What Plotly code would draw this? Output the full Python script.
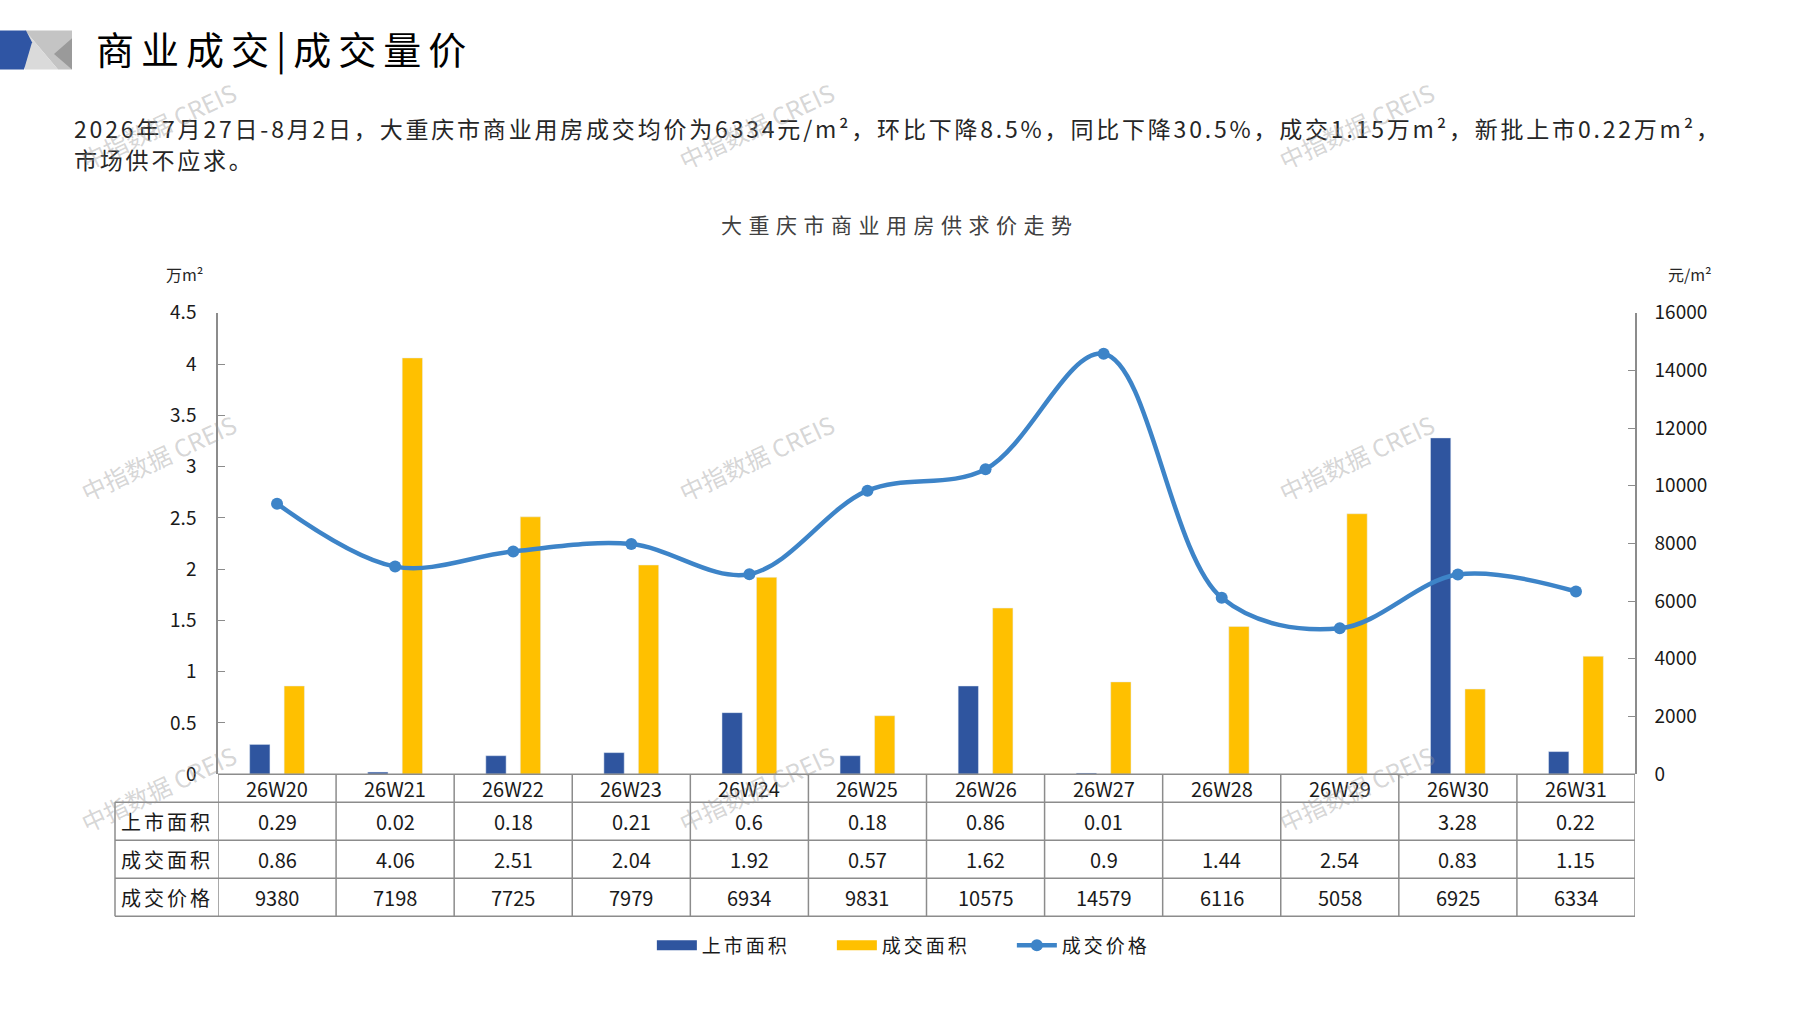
import plotly.graph_objects as go

# данные: недели, площадь новых поставок, площадь сделок, цена сделок
weeks = ["26W20", "26W21", "26W22", "26W23", "26W24", "26W25",
         "26W26", "26W27", "26W28", "26W29", "26W30", "26W31"]
supply_area = [0.29, 0.02, 0.18, 0.21, 0.6, 0.18, 0.86, 0.01, None, None, 3.28, 0.22]
deal_area = [0.86, 4.06, 2.51, 2.04, 1.92, 0.57, 1.62, 0.9, 1.44, 2.54, 0.83, 1.15]
deal_price = [9380, 7198, 7725, 7979, 6934, 9831, 10575, 14579, 6116, 5058, 6925, 6334]

row_names = ["上市面积", "成交面积", "成交价格"]
names = ["上市面积", "成交面积", "成交价格"]

W, H = 1797, 1010
FONT = "Noto Sans CJK SC"
BLUE = "#2F559F"
YELLOW = "#FFC000"
LINE = "#3D84C8"
GRID = "#8C8C8C"

# пиксельная разметка области графика и таблицы
PL, PR, PT, PB = 218, 1635, 306, 780
TL = 115
rows_y = [780, 809, 848, 887, 926]


def px(x):
    return x / W


def py(y):
    return 1 - y / H


def spaced(text, sp):
    return f'<span style="letter-spacing:{sp}px">{text}</span>'


def note(x, y, text, font, xref="paper", xanchor="center", **kw):
    return dict(x=x, y=y, xref=xref, yref="paper", text=text, showarrow=False,
                xanchor=xanchor, yanchor="middle", font=font, **kw)


fig = go.Figure()

fig.add_trace(go.Bar(x=weeks, y=supply_area, name=names[0], marker_color=BLUE,
                     width=0.172, offset=-0.232, yaxis="y", showlegend=False))
fig.add_trace(go.Bar(x=weeks, y=deal_area, name=names[1], marker_color=YELLOW,
                     width=0.172, offset=0.060, yaxis="y", showlegend=False))
# широкие образцы цвета для легенды (как в Excel)
fig.add_trace(go.Scatter(x=[None], y=[None], name=spaced(names[0], 3), mode="lines",
                         line=dict(color=BLUE, width=10)))
fig.add_trace(go.Scatter(x=[None], y=[None], name=spaced(names[1], 3), mode="lines",
                         line=dict(color=YELLOW, width=10)))
fig.add_trace(go.Scatter(x=weeks, y=deal_price, name=spaced(names[2], 3), yaxis="y2",
                         mode="lines+markers",
                         line=dict(color=LINE, width=4.5, shape="spline", smoothing=1.0),
                         marker=dict(size=12, color=LINE)))

shapes = []
annotations = []

# таблица под графиком
for k in range(13):
    shapes.append(dict(type="line", xref="x", yref="paper", x0=k - 0.5, x1=k - 0.5,
                       y0=py(rows_y[0]), y1=py(rows_y[-1]), line=dict(color=GRID, width=1.5)))
shapes.append(dict(type="line", xref="paper", yref="paper", x0=px(TL), x1=px(TL),
                   y0=py(rows_y[1]), y1=py(rows_y[-1]), line=dict(color=GRID, width=1.5)))
shapes.append(dict(type="line", xref="x", yref="paper", x0=-0.5, x1=11.5,
                   y0=py(rows_y[0]), y1=py(rows_y[0]), line=dict(color=GRID, width=1.5)))
for yy in rows_y[1:]:
    shapes.append(dict(type="line", xref="paper", yref="paper", x0=px(TL), x1=px(PR),
                       y0=py(yy), y1=py(yy), line=dict(color=GRID, width=1.5)))

cell_font = dict(family=FONT, size=20, color="#1a1a1a")
for w in weeks:
    annotations.append(note(w, py((rows_y[0] + rows_y[1]) / 2), w, cell_font, xref="x"))
table_rows = [supply_area, deal_area, deal_price]
for r, vals in enumerate(table_rows):
    yc = py((rows_y[r + 1] + rows_y[r + 2]) / 2)
    annotations.append(note(px((TL + PL) / 2), yc, spaced(row_names[r], 3), cell_font))
    for i, v in enumerate(vals):
        if v is None:
            continue
        annotations.append(note(weeks[i], yc, f"{v:g}", cell_font, xref="x"))

# заголовки и подписи
annotations.append(note(px(94), py(33), spaced("商业成交|成交量价", 7),
                        dict(family=FONT, size=38, color="#000000"), xanchor="left"))
sub1 = "2026年7月27日-8月2日，大重庆市商业用房成交均价为6334元/m²，环比下降8.5%，同比下降30.5%，成交1.15万m²，新批上市0.22万m²，"
sub2 = "市场供不应求。"
for txt, yy in [(sub1, 116), (sub2, 148)]:
    annotations.append(note(px(72), py(yy), spaced(txt, 2.8),
                            dict(family=FONT, size=23, color="#262626"), xanchor="left"))
annotations.append(note(px(900), py(215), spaced("大重庆市商业用房供求价走势", 6.5),
                        dict(family=FONT, size=21, color="#404040")))
annotations.append(note(px(184), py(266), "万m²",
                        dict(family=FONT, size=16, color="#262626")))
annotations.append(note(px(1690), py(266), "元/m²",
                        dict(family=FONT, size=16, color="#262626")))

# водяные знаки
for wx in [158, 756, 1356]:
    for wy in [114, 455, 795]:
        annotations.append(note(px(wx), py(wy), "中指数据 CREIS",
                                dict(family=FONT, size=24, color="rgba(150,150,150,0.4)"),
                                textangle=-25))


# значок в заголовке
def path(pts):
    return "M " + " L ".join(f"{px(a):.5f},{py(b):.5f}" for a, b in pts) + " Z"


icon = [
    ([(25, 16), (72, 16), (72, 56), (58, 56)], "#C4C4C4"),
    ([(25, 16), (58, 56), (25, 56)], "#DADADA"),
    ([(72, 24), (54, 40), (72, 56)], "#9A9A9A"),
    ([(0, 16), (26, 16), (32, 28), (24, 56), (0, 56)], "#2F55A4"),
]
for pts, col in icon:
    shapes.append(dict(type="path", xref="paper", yref="paper", path=path(pts),
                       fillcolor=col, line=dict(width=0)))

tick_font = dict(family=FONT, size=19, color="#1a1a1a")
fig.update_layout(
    width=W, height=H,
    margin=dict(l=0, r=0, t=0, b=0),
    plot_bgcolor="white", paper_bgcolor="white",
    showlegend=True,
    legend=dict(orientation="h", x=0.513, xanchor="center", y=py(956), yanchor="middle",
                font=dict(family=FONT, size=19, color="#1a1a1a"), itemwidth=40,
                entrywidth=125, traceorder="normal"),
    xaxis=dict(domain=[px(PL), px(PR)], range=[-0.5, 11.5], showticklabels=False,
               showgrid=False, zeroline=False, ticks=""),
    yaxis=dict(domain=[py(PB), py(PT)], range=[0, 4.5], dtick=0.5, showgrid=False,
               zeroline=False, showline=True, linecolor=GRID, linewidth=1.5,
               ticks="inside", ticklen=7, tickcolor=GRID, ticklabelstandoff=16,
               tickfont=tick_font),
    yaxis2=dict(overlaying="y", side="right", range=[0, 16000], dtick=2000, showgrid=False,
                zeroline=False, showline=True, linecolor=GRID, linewidth=1.5,
                ticks="inside", ticklen=7, tickcolor=GRID, ticklabelstandoff=14,
                tickformat="d", tickfont=tick_font),
    shapes=shapes,
    annotations=annotations,
)

fig.write_html("out.html", config={"displayModeBar": False},
               post_script="document.body.style.margin='0';")
